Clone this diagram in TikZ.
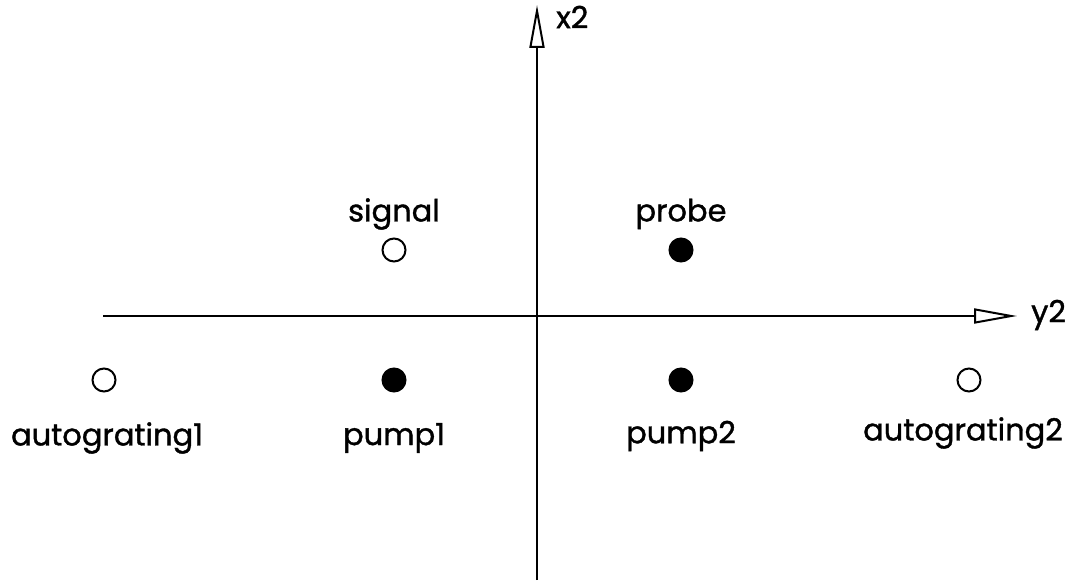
\documentclass[tikz,border=0pt]{standalone}
\usepackage{fontspec}
\setmainfont{Poppins}
\newfontfamily\lblfont{Poppins}[FakeBold=1.2]
\usetikzlibrary{arrows.meta}
\begin{document}
\begin{tikzpicture}[x=1pt,y=-1pt,
  axis/.style={line width=1.8pt,-{Triangle[open,length=43pt,width=15pt,line width=2pt]}},
  hollow/.style={circle,draw,line width=2pt,minimum size=23pt,inner sep=0pt},
  filled/.style={circle,draw,fill=black,line width=2pt,minimum size=23pt,inner sep=0pt},
  lbl/.style={font=\lblfont\fontsize{30.5}{34}\selectfont,inner sep=0pt}]
\useasboundingbox (0,0) rectangle (1069,586);
\coordinate (vbot) at (537,580);
\coordinate (vtop) at (537,5);
\coordinate (hleft) at (103,316);
\coordinate (hright) at (1017,316);
\draw[axis] (vbot) -- (vtop);
\draw[axis] (hleft) -- (hright);
\node[lbl,anchor=west] (x2) at (556,17) {x2};
\node[lbl,anchor=west] (y2) at (1031,315) {y2};
\node[hollow] (signal) at (394,250) {};
\node[filled] (probe) at (681,250) {};
\node[filled] (pump1) at (394,380) {};
\node[filled] (pump2) at (681,380) {};
\node[hollow] (ag1) at (104,380) {};
\node[hollow] (ag2) at (969,380) {};
\node[lbl] (signaltxt) at (394,214) {signal};
\node[lbl] (probetxt) at (681,214) {probe};
\node[lbl] (pump1txt) at (394,438) {pump1};
\node[lbl] (pump2txt) at (681,436) {pump2};
\node[lbl] (ag1txt) at (107,438) {autograting1};
\node[lbl] (ag2txt) at (963,433) {autograting2};
\end{tikzpicture}
\end{document}
